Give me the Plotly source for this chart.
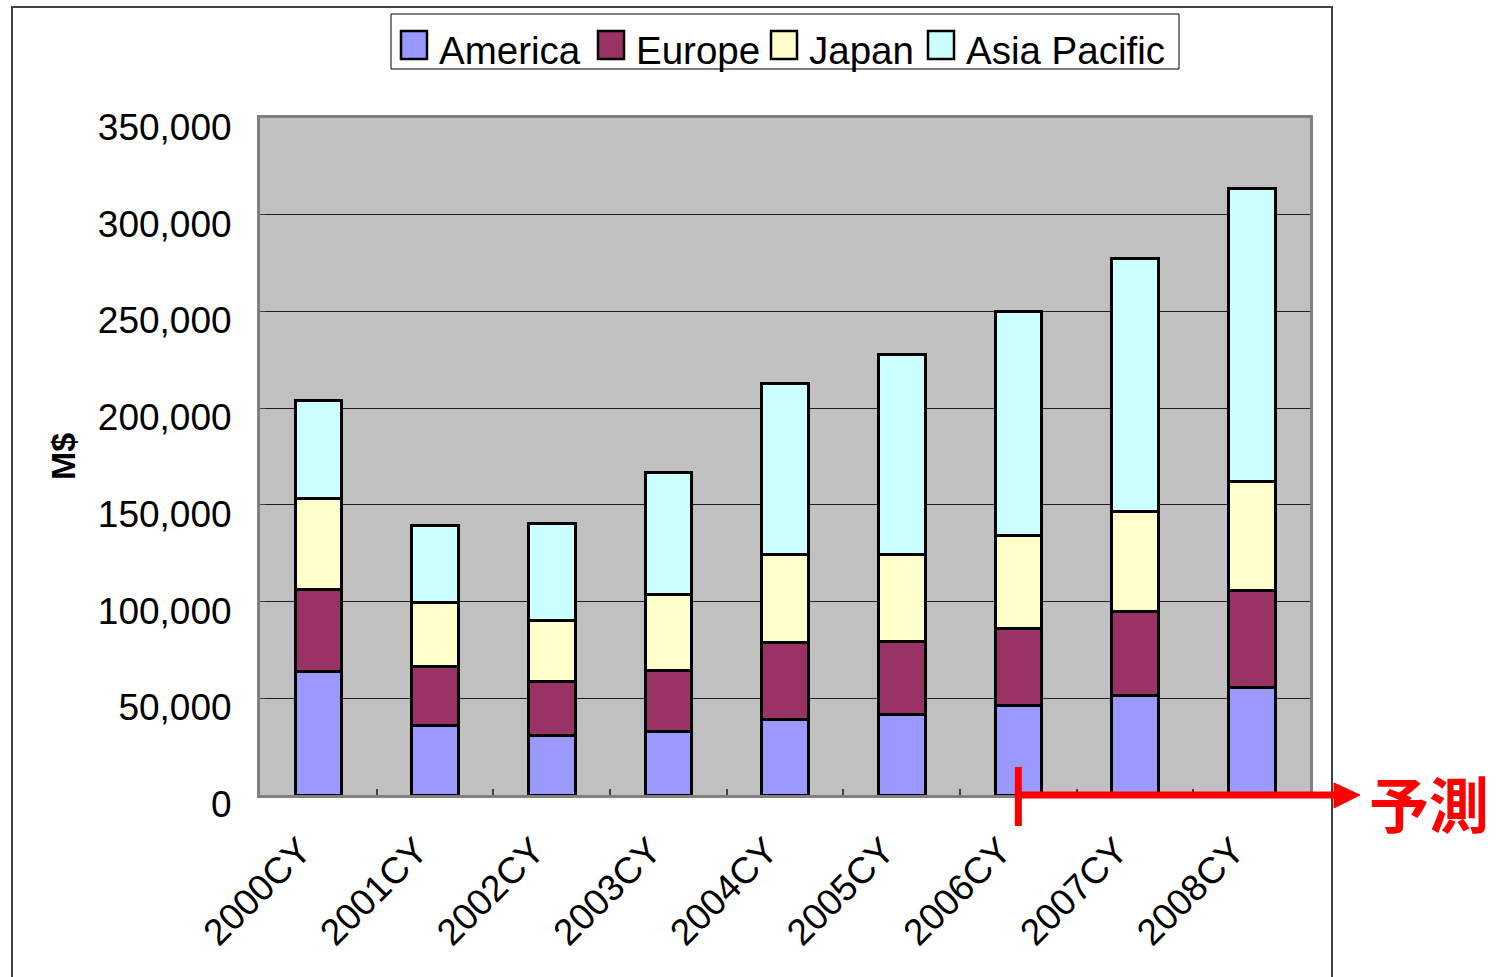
import plotly.graph_objects as go

# Regional sales by calendar year (M$)
categories = ["2000CY", "2001CY", "2002CY", "2003CY", "2004CY",
              "2005CY", "2006CY", "2007CY", "2008CY"]
america = [64000, 35700, 31000, 32600, 38800, 41400, 46500, 51200, 55800]
europe = [42500, 30500, 27900, 32000, 39800, 38200, 39800, 43900, 49700]
japan = [47000, 33100, 31100, 39300, 45500, 44500, 48100, 51700, 56800]
asia_pacific = [50700, 39800, 50600, 62600, 88900, 103400, 115800, 130800, 151500]

series_names = ["America", "Europe", "Japan", "Asia Pacific"]
series_values = [america, europe, japan, asia_pacific]
series_colors = ["#9999FF", "#993366", "#FFFFCC", "#CCFFFF"]

y_ticks = [0, 50000, 100000, 150000, 200000, 250000, 300000, 350000]
y_tick_labels = ["0", "50,000", "100,000", "150,000", "200,000",
                 "250,000", "300,000", "350,000"]
forecast_start = "2006CY"
forecast_label = "予測"

FONT = "Liberation Sans, Arial, sans-serif"
W, H = 1501, 977
L, R, T, B = 260, 191, 118, 182
PW, PH = W - L - R, H - T - B


def px_x(px):
    return (px - L) / PW


def px_y(py):
    return (H - B - py) / PH


fig = go.Figure()
for name, vals, col in zip(series_names, series_values, series_colors):
    fig.add_trace(go.Bar(
        x=categories, y=vals, name=name,
        marker=dict(color=col, line=dict(color="black", width=3)),
        showlegend=False,
    ))

shapes = []
annotations = []

# outer chart frame
shapes.append(dict(type="rect", xref="paper", yref="paper",
                   x0=px_x(12), x1=px_x(1332), y0=px_y(990), y1=px_y(7),
                   line=dict(color="#404040", width=2), layer="below"))

# legend box with swatches
shapes.append(dict(type="rect", xref="paper", yref="paper",
                   x0=px_x(391), x1=px_x(1179), y0=px_y(69), y1=px_y(14),
                   line=dict(color="black", width=1), fillcolor="white"))
swatch_x = [401, 598, 771, 928]
for sx, name, col in zip(swatch_x, series_names, series_colors):
    shapes.append(dict(type="rect", xref="paper", yref="paper",
                       x0=px_x(sx), x1=px_x(sx + 26), y0=px_y(59), y1=px_y(31),
                       line=dict(color="black", width=2.5), fillcolor=col))
    annotations.append(dict(xref="paper", yref="paper", x=px_x(sx + 36), y=px_y(50),
                            text=name, showarrow=False, xanchor="left", yanchor="middle",
                            font=dict(family=FONT, size=38.5, color="black")))

# forecast marker: bracket from the 2006 category to the right edge with arrow
n = len(categories)
fx = (categories.index(forecast_start) + 0.5) / n
red = "#FF0000"
shapes.append(dict(type="line", xref="paper", yref="paper",
                   x0=fx, x1=fx, y0=px_y(826), y1=px_y(767),
                   line=dict(color=red, width=7)))
shapes.append(dict(type="line", xref="paper", yref="paper",
                   x0=fx, x1=px_x(1340), y0=0, y1=0,
                   line=dict(color=red, width=7)))
shapes.append(dict(type="path", xref="paper", yref="paper",
                   path=f"M {px_x(1334)},{px_y(783)} L {px_x(1360)},0 L {px_x(1334)},{px_y(808)} Z",
                   fillcolor=red, line=dict(color=red, width=1)))
annotations.append(dict(xref="paper", yref="paper", x=px_x(1429), y=px_y(801),
                        text=f"<b>{forecast_label}</b>", showarrow=False,
                        xanchor="center", yanchor="middle",
                        font=dict(family="Noto Sans CJK JP", size=60, color=red)))

fig.update_layout(
    width=W, height=H,
    margin=dict(l=L, r=R, t=T, b=B, pad=0),
    barmode="stack",
    bargap=0.6,
    paper_bgcolor="white",
    plot_bgcolor="#C0C0C0",
    font=dict(family=FONT, size=37, color="black"),
    shapes=shapes,
    annotations=annotations,
    showlegend=False,
)
fig.update_xaxes(
    type="category", range=[-0.5, n - 0.5],
    tickangle=-45, tickfont=dict(size=37, family=FONT),
    ticks="inside", tickson="boundaries", ticklen=6, tickcolor="#404040", tickwidth=2,
    ticklabelstandoff=16, ticklabelshift=-18,
    showline=True, linecolor="#808080", linewidth=3, mirror=True,
    showgrid=False,
)
fig.update_yaxes(
    range=[0, 350000], tickvals=y_ticks, ticktext=y_tick_labels,
    tickfont=dict(size=37, family=FONT),
    ticks="inside", ticklen=5, tickcolor="#404040",
    ticklabelstandoff=18, ticklabelshift=9,
    showline=True, linecolor="#808080", linewidth=3, mirror=True,
    showgrid=True, gridcolor="#202020", gridwidth=1,
    zeroline=False,
    title=dict(text="<b>M$</b>", font=dict(size=34, family=FONT), standoff=12),
)

fig.write_html("out.html")
